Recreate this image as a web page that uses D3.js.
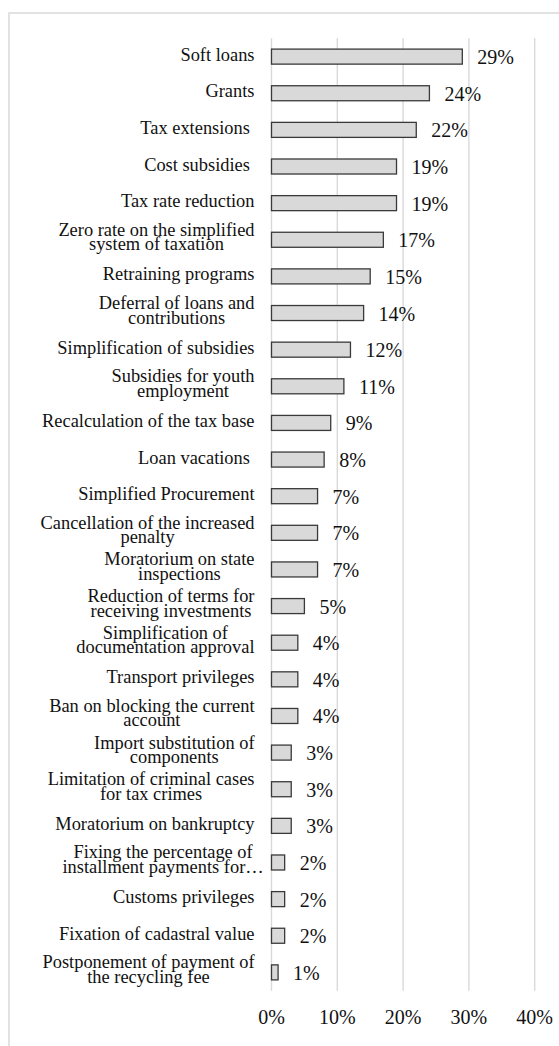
<!DOCTYPE html>
<html><head><meta charset="utf-8">
<script src="https://cdn.jsdelivr.net/npm/d3@7/dist/d3.min.js"></script>
<style>
html,body{margin:0;padding:0;background:#fff;}
svg text{font-family:"Liberation Serif","Times New Roman",serif;fill:#111;white-space:pre;}
</style></head>
<body>
<svg id="chart" width="559" height="1046"></svg>
<script>
const categories = [
  ["Soft loans"],
  ["Grants"],
  ["Tax extensions "],
  ["Cost subsidies "],
  ["Tax rate reduction"],
  ["Zero rate on the simplified","system of taxation"],
  ["Retraining programs"],
  ["Deferral of loans and","contributions"],
  ["Simplification of subsidies"],
  ["Subsidies for youth","employment"],
  ["Recalculation of the tax base"],
  ["Loan vacations "],
  ["Simplified Procurement"],
  ["Cancellation of the increased","penalty"],
  ["Moratorium on state","inspections"],
  ["Reduction of terms for","receiving investments"],
  ["Simplification of","documentation approval"],
  ["Transport privileges"],
  ["Ban on blocking the current","account"],
  ["Import substitution of","components"],
  ["Limitation of criminal cases","for tax crimes"],
  ["Moratorium on bankruptcy"],
  ["Fixing the percentage of","installment payments for\u2026"],
  ["Customs privileges"],
  ["Fixation of cadastral value"],
  ["Postponement of payment of","the recycling fee"]
];
const values = [29,24,22,19,19,17,15,14,12,11,9,8,7,7,7,5,4,4,4,3,3,3,2,2,2,1];
const tickValues = [0,10,20,30,40];
const tickLabels = ["0%","10%","20%","30%","40%"];

const svg = d3.select("#chart");
const FS = 18.4;   // category labels
const VFS = 20;    // value & tick labels

// outer frame
svg.append("rect").attr("x",9).attr("y",13).attr("width",700).attr("height",1200)
  .attr("fill","none").attr("stroke","#d9d9d9").attr("stroke-width",1.5);

const x = d3.scaleLinear().domain([0,40]).range([271.5,534.7]);
const idx = d3.range(categories.length);
const y = d3.scaleBand().domain(idx).range([38.3,990.7]).paddingInner(0.59).paddingOuter(0.295);

// gridlines
svg.append("g").selectAll("line").data(tickValues).join("line")
  .attr("x1",d=>x(d)).attr("x2",d=>x(d))
  .attr("y1",38.3).attr("y2",990.7)
  .attr("stroke","#d9d9d9").attr("stroke-width",1.4);

// x tick labels
svg.append("g").selectAll("text").data(tickValues).join("text")
  .attr("x",d=>x(d)).attr("y",1024)
  .attr("text-anchor","middle").attr("font-size",VFS)
  .text((d,i)=>tickLabels[i]);

// bars
svg.append("g").selectAll("rect").data(idx).join("rect")
  .attr("x",x(0)).attr("y",i=>y(i))
  .attr("width",i=>x(values[i])-x(0)).attr("height",y.bandwidth())
  .attr("fill","#d9d9d9").attr("stroke","#3a3a3a").attr("stroke-width",1.3);

// value labels
svg.append("g").selectAll("text").data(idx).join("text")
  .attr("x",i=>x(values[i])+15)
  .attr("y",i=>y(i)+y.bandwidth()/2+7.5)
  .attr("font-size",VFS)
  .text(i=>values[i]+"%");

// category labels (block right-aligned, lines centered within block)
const right = 254.5;
const lg = svg.append("g");
const meas = svg.append("text").attr("font-size",FS).attr("visibility","hidden");
idx.forEach(i=>{
  const lines = categories[i];
  const cy = y(i)+y.bandwidth()/2;
  const ws = lines.map(t=>{ meas.text(t.replace("\u2026","")); return meas.node().getComputedTextLength(); });
  const w = d3.max(ws);
  const cx = right - w/2;
  const txt = lg.append("text").attr("font-size",FS).attr("text-anchor","middle");
  lines.forEach((t,k)=>{
    const base = lines.length===1 ? cy+4 : cy-4+k*14.5;
    txt.append("tspan").attr("x",cx).attr("y",base).text(t);
  });
});
meas.remove();
</script>
</body></html>
